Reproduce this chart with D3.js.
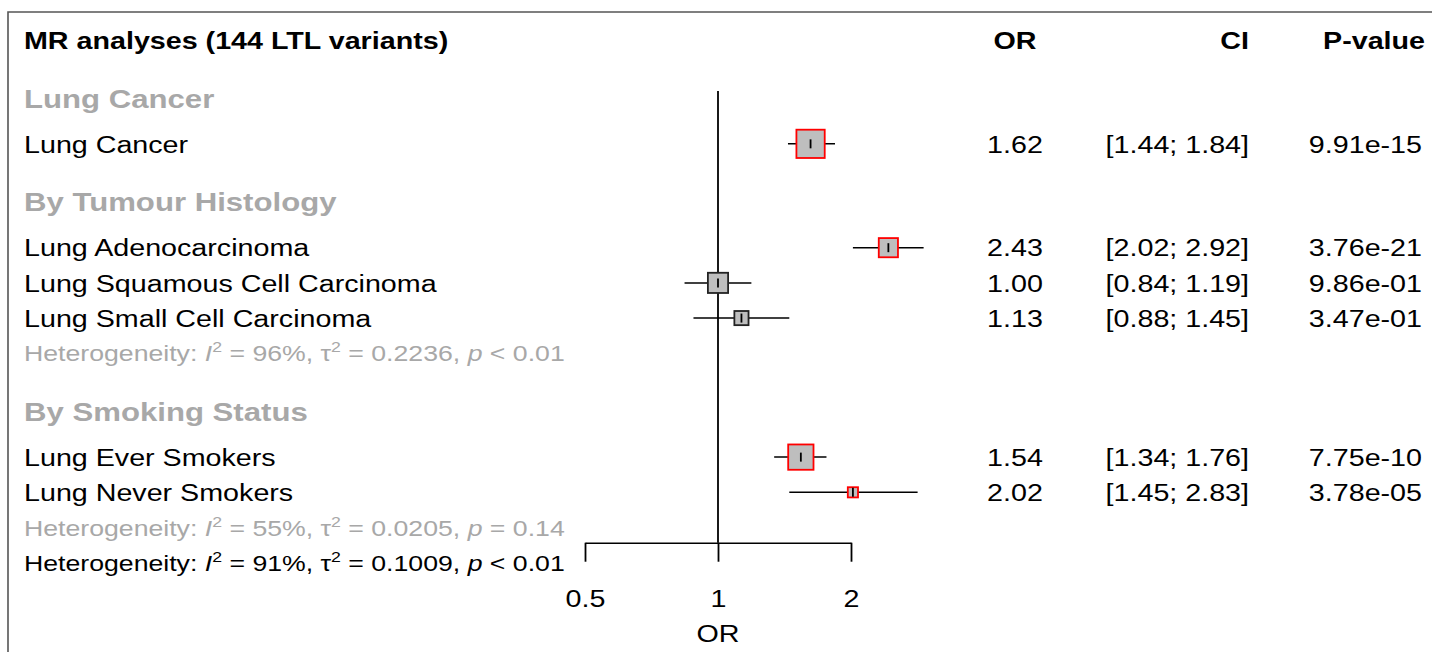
<!DOCTYPE html>
<html>
<head>
<meta charset="utf-8">
<script src="https://cdn.jsdelivr.net/npm/d3@7"></script>
<style>
  body { margin: 0; background: #fff; }
  svg { display: block; font-family: "Liberation Sans", Arial, Helvetica, sans-serif; }
</style>
</head>
<body>
<div id="chart"></div>
<script>
/* DATA */
const title = "MR analyses (144 LTL variants)";
const columnHeads = ["OR", "CI", "P-value"];
const groupLabels = ["Lung Cancer", "By Tumour Histology", "By Smoking Status"];
const outcomes = [
  "Lung Cancer",
  "Lung Adenocarcinoma",
  "Lung Squamous Cell Carcinoma",
  "Lung Small Cell Carcinoma",
  "Lung Ever Smokers",
  "Lung Never Smokers"
];
const outcomeGroup = [0, 1, 1, 1, 2, 2];
const orValues = [1.62, 2.43, 1.00, 1.13, 1.54, 2.02];
const ciLower = [1.44, 2.02, 0.84, 0.88, 1.34, 1.45];
const ciUpper = [1.84, 2.92, 1.19, 1.45, 1.76, 2.83];
const pValues = ["9.91e-15", "3.76e-21", "9.86e-01", "3.47e-01", "7.75e-10", "3.78e-05"];
const significant = [true, true, false, false, true, true];
const weights = [100, 46, 51, 25, 80, 13]; // relative weight, box area

// heterogeneity lines: group index, or -1 for the overall line
const hetGroup = [1, 2, -1];
const hetI2 = ["96%", "55%", "91%"];
const hetTau2 = ["0.2236", "0.0205", "0.1009"];
const hetP = ["< 0.01", "= 0.14", "< 0.01"];

const axisTicks = [0.5, 1, 2];
const axisLabel = "OR";

/* CONSTANTS */
const width = 1432, height = 652;
const stretch = 1.18;          // glyphs in the source are drawn wide
const fontSize = 24.3, groupFontSize = 26.4, hetFontSize = 22.6;
const labelX = 24, orX = 1015, ciX = 1249, pX = 1422, pHeadX = 1425;
const grayText = "#a8a8a8";

const svg = d3.select("#chart").append("svg")
  .attr("width", width)
  .attr("height", height);

// frame
svg.append("path")
  .attr("d", `M8,${height} V12 H${width}`)
  .attr("fill", "none")
  .attr("stroke", "#555")
  .attr("stroke-width", 1.6);

/* SCALES */
const xScale = d3.scaleLog()
  .domain([0.5, 2])
  .range([585, 851]);

// one row = 35.2px, row 0 is the header line
const yScale = d3.scaleLinear()
  .domain([0, 1])
  .range([40, 75.2]);

const boxScale = d3.scaleSqrt()
  .domain([0, 100])
  .range([0, 28.3]);

/* LAYOUT OF ROWS */
const rows = [];
let slot = 0;
groupLabels.forEach((g, gi) => {
  slot += 1.65;
  rows.push({ type: "group", slot, label: g });
  slot += 0.3;
  outcomes.forEach((o, i) => {
    if (outcomeGroup[i] === gi) {
      slot += 1;
      rows.push({ type: "study", slot, i });
    }
  });
  const h = hetGroup.indexOf(gi);
  if (h >= 0) {
    slot += 1;
    rows.push({ type: "het", slot, h, color: grayText });
  }
});
slot += 1;
const overallSlot = slot;
rows.push({ type: "het", slot, h: hetGroup.indexOf(-1), color: "#000" });

// text helper: text is stretched sideways like the original
function addText(x, y, str, opts = {}) {
  return svg.append("text")
    .attr("transform", `translate(${x},${y}) scale(${stretch},1)`)
    .attr("dy", "0.36em")
    .attr("font-size", opts.size || fontSize)
    .attr("font-weight", opts.bold ? "bold" : null)
    .attr("text-anchor", opts.anchor || "start")
    .attr("fill", opts.color || "#000")
    .text(str);
}

/* HEADER */
addText(labelX, yScale(0), title, { bold: true });
addText(orX, yScale(0), columnHeads[0], { bold: true, anchor: "middle" });
addText(ciX, yScale(0), columnHeads[1], { bold: true, anchor: "end" });
addText(pHeadX, yScale(0), columnHeads[2], { bold: true, anchor: "end" });

/* REFERENCE LINE AND AXIS */
const firstGroupY = yScale(rows[0].slot);
const axisY = yScale(overallSlot) - 20;

svg.append("line")
  .attr("x1", xScale(1)).attr("x2", xScale(1))
  .attr("y1", firstGroupY - 7).attr("y2", axisY)
  .attr("stroke", "#000")
  .attr("stroke-width", 1.8);

const xAxis = d3.axisBottom(xScale)
  .tickValues(axisTicks)
  .tickFormat(d3.format(""))
  .tickSize(19)
  .tickSizeOuter(0);

const axisG = svg.append("g")
  .attr("transform", `translate(0, ${axisY})`)
  .call(xAxis)
  .attr("font-size", null)
  .attr("font-family", null);

axisG.select(".domain").attr("stroke", "#000").attr("stroke-width", 1.5);
axisG.selectAll(".tick line").attr("stroke", "#000").attr("stroke-width", 1.8);
axisG.selectAll(".tick text")
  .attr("y", yScale(overallSlot + 1) - axisY)
  .attr("dy", "0.36em")
  .attr("font-size", fontSize)
  .attr("fill", "#000")
  .attr("transform", `scale(${stretch},1)`);

addText(xScale(1), yScale(overallSlot + 2), axisLabel, { anchor: "middle" });

/* ROWS */
rows.forEach(r => {
  const y = yScale(r.slot);
  if (r.type === "group") {
    addText(labelX, y, r.label, { bold: true, size: groupFontSize, color: grayText });
  } else if (r.type === "study") {
    const i = r.i;
    addText(labelX, y, outcomes[i]);
    addText(orX, y, orValues[i].toFixed(2), { anchor: "middle" });
    addText(ciX, y, `[${ciLower[i].toFixed(2)}; ${ciUpper[i].toFixed(2)}]`, { anchor: "end" });
    addText(pX, y, pValues[i], { anchor: "end" });

    // confidence interval
    svg.append("line")
      .attr("x1", xScale(ciLower[i])).attr("x2", xScale(ciUpper[i]))
      .attr("y1", y).attr("y2", y)
      .attr("stroke", "#000")
      .attr("stroke-width", 1.5);

    // weight box
    const s = boxScale(weights[i]);
    svg.append("rect")
      .attr("x", xScale(orValues[i]) - s / 2)
      .attr("y", y - s / 2)
      .attr("width", s)
      .attr("height", s)
      .attr("fill", "#bebebe")
      .attr("stroke", significant[i] ? "#ff0000" : "#222")
      .attr("stroke-width", 1.8);

    // estimate tick
    svg.append("line")
      .attr("x1", xScale(orValues[i])).attr("x2", xScale(orValues[i]))
      .attr("y1", y - 4.5).attr("y2", y + 4.5)
      .attr("stroke", "#000")
      .attr("stroke-width", 1.8);
  } else if (r.type === "het") {
    const h = r.h;
    const t = svg.append("text")
      .attr("transform", `translate(${labelX},${y}) scale(${stretch},1)`)
      .attr("dy", "0.36em")
      .attr("font-size", hetFontSize)
      .attr("fill", r.color);
    t.append("tspan").text("Heterogeneity: ");
    t.append("tspan").attr("font-style", "italic").text("I");
    t.append("tspan").attr("font-size", 15).attr("dy", -9).text("2");
    t.append("tspan").attr("dy", 9).text(` = ${hetI2[h]}, `);
    t.append("tspan").text("\u03c4");
    t.append("tspan").attr("font-size", 15).attr("dy", -9).text("2");
    t.append("tspan").attr("dy", 9).text(` = ${hetTau2[h]}, `);
    t.append("tspan").attr("font-style", "italic").text("p");
    t.append("tspan").text(` ${hetP[h]}`);
  }
});
</script>
</body>
</html>
